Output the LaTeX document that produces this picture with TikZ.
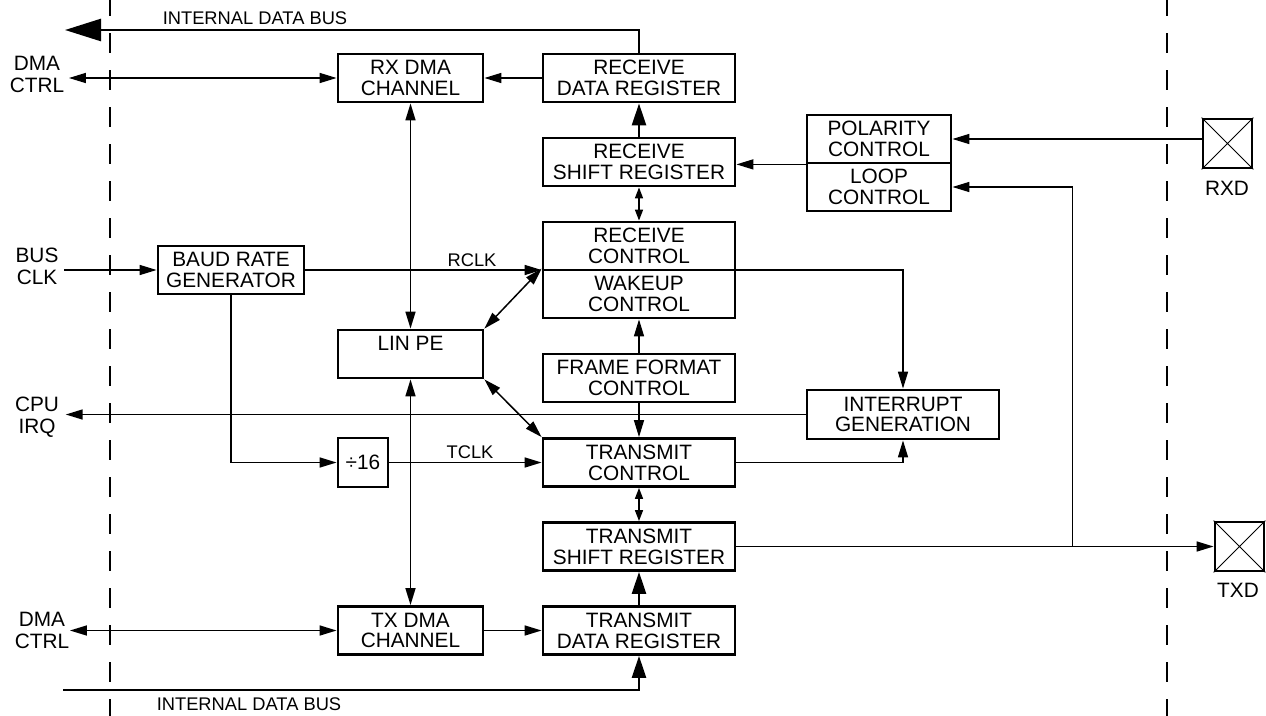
\documentclass[tikz,border=0pt]{standalone}
\usepackage{fontspec}
\setmainfont{Liberation Sans}
\usetikzlibrary{arrows.meta}

\begin{document}
\begin{tikzpicture}[x=1pt,y=-1pt,
    font=\fontsize{20.8}{20.8}\selectfont,
    >={Triangle[length=17pt,width=10pt]},line width=1.5pt,
    box/.style={draw,line width=2.8pt,inner sep=0pt,align=center,
                minimum height=48pt},
    pad/.style={draw,line width=2.8pt,inner sep=0pt,minimum size=49pt},
    side/.style={align=center,inner sep=0pt,font=\fontsize{20.8}{22}\selectfont},
    sig/.style={inner sep=0pt,font=\fontsize{18.3}{18.3}\selectfont},
    bus/.style={line width=2.6pt},
    fat/.style={line width=2.6pt,-{Triangle[length=22pt,width=14pt]}},
    twin/.style={{Triangle[length=11pt,width=8pt]}-{Triangle[length=11pt,width=8pt]}},
    border/.style={line width=2pt,dash pattern=on 20pt off 17pt}]
  \useasboundingbox (0,0) rectangle (1266,715);
  % chip boundary
  \draw[border] (110,-4) -- (110,720);
  \draw[border] (1167,-4) -- (1167,720);

  % receive / transmit column
  \node[box,minimum width=192pt] (rdr)  at (639,78)    {RECEIVE\\DATA REGISTER};
  \node[box,minimum width=192pt] (rsr)  at (639,162)   {RECEIVE\\SHIFT REGISTER};
  \node[box,minimum width=192pt] (rctl) at (639,246)   {RECEIVE\\CONTROL};
  \node[box,minimum width=192pt] (wake) at (639,294)   {WAKEUP\\CONTROL};
  \node[box,minimum width=192pt] (ffc)  at (639,378)   {FRAME FORMAT\\CONTROL};
  \node[box,minimum width=192pt] (tctl) at (639,462.5) {TRANSMIT\\CONTROL};
  \node[box,minimum width=192pt] (tsr)  at (639,546.5) {TRANSMIT\\SHIFT REGISTER};
  \node[box,minimum width=192pt] (tdr)  at (639,630.5) {TRANSMIT\\DATA REGISTER};

  \node[box,minimum width=145pt] (rxdma) at (410.5,78)    {RX DMA\\CHANNEL};
  \node[box,minimum width=145pt] (linpe) at (410.5,354)   {LIN PE\\\mbox{}};
  \node[box,minimum width=145pt] (txdma) at (410.5,630.5) {TX DMA\\CHANNEL};
  \node[box,minimum width=146pt] (baud)  at (231,270)     {BAUD RATE\\GENERATOR};
  \node[box,minimum width=50pt,minimum height=49pt] (div) at (363,462.5) {÷16};

  \node[box,minimum width=144pt] (pol)   at (879,139) {POLARITY\\CONTROL};
  \node[box,minimum width=144pt] (loopc) at (879,187) {LOOP\\CONTROL};
  \node[box,minimum width=192pt,minimum height=49pt] (intgen) at (903,414.5)
    {INTERRUPT\\GENERATION};

  % pins
  \node[pad] (rxd) at (1227.5,143.5) {};
  \node[pad] (txd) at (1239.5,546.5) {};
  \foreach \p in {rxd,txd}
    \draw[line width=0.8pt] (\p.north west) -- (\p.south east)
                            (\p.north east) -- (\p.south west);
  \node[side] (rxdlbl) at (1227,188) {RXD};
  \node[side] (txdlbl) at (1238,590) {TXD};

  % outside signals
  \node[side] (dmarx)  at (37,74)  {DMA\\CTRL};
  \node[side] (busclk) at (37,266) {BUS\\CLK};
  \node[side] (cpu)    at (37,417) {CPU\\IRQ};
  \node[side] (dmatx)  at (42,630) {DMA\\CTRL};

  % data buses
  \coordinate (busTop) at (65,30);
  \coordinate (busBot) at (63,690);
  \draw[bus,-{Triangle[length=36pt,width=22pt]}] (rdr.north) |- (busTop);
  \draw[fat] (busBot) -| (tdr.south);
  \node[sig] (busTopLbl) at (255,18)  {INTERNAL DATA BUS};
  \node[sig] (busBotLbl) at (249,704) {INTERNAL DATA BUS};

  % receive path
  \draw[<->] ([xshift=4pt]dmarx.east |- rxdma.west) -- (rxdma.west);
  \draw[->] (rdr.west) -- (rxdma.east);
  \draw[fat] (rsr.north) -- (rdr.south);
  \draw[twin] (rsr.south) -- (rctl.north);
  \draw[->] (pol.south west) -- (rsr.east |- pol.south west);
  \draw[->] (rxd.west |- pol.east) -- (pol.east);

  % clocks
  \draw[->] ([xshift=5pt]busclk.east |- baud.west) -- (baud.west);
  \draw[->] (baud.east) -- (baud.east -| rctl.west);
  \node[sig] (rclk) at (472,260) {RCLK};
  \draw[->] (baud.south) |- (div.west);
  \draw[->] (div.east) -- (tctl.west);
  \node[sig] (tclk) at (470,452) {TCLK};

  % LIN PE and control
  \draw[<->] (rxdma.south) -- (linpe.north);
  \draw[<->] (linpe.south) -- (txdma.north);
  \draw[<->] (linpe.north east) -- (wake.north west);
  \draw[<->] (linpe.south east) -- (tctl.north west);
  \draw[->] (ffc.north) -- (wake.south);
  \draw[->] (ffc.south) -- (tctl.north);

  % interrupts
  \draw[->] (rctl.east |- baud.east) -| (intgen.north);
  \draw[->] (tctl.east) -| (intgen.south);
  \draw[->] (intgen.west) -- ([xshift=6pt]cpu.east |- intgen.west);

  % transmit path
  \draw[twin] (tctl.south) -- (tsr.north);
  \draw[fat] (tdr.north) -- (tsr.south);
  \draw[->] (txdma.east) -- (tdr.west);
  \draw[<->] (dmatx.east |- txdma.west) -- (txdma.west);
  \draw[->] (tsr.east) -- (txd.west);
  \path (tsr.east) ++(336,0) coordinate (jn);
  \draw[->] (jn) |- (loopc.east);
\end{tikzpicture}
\end{document}
